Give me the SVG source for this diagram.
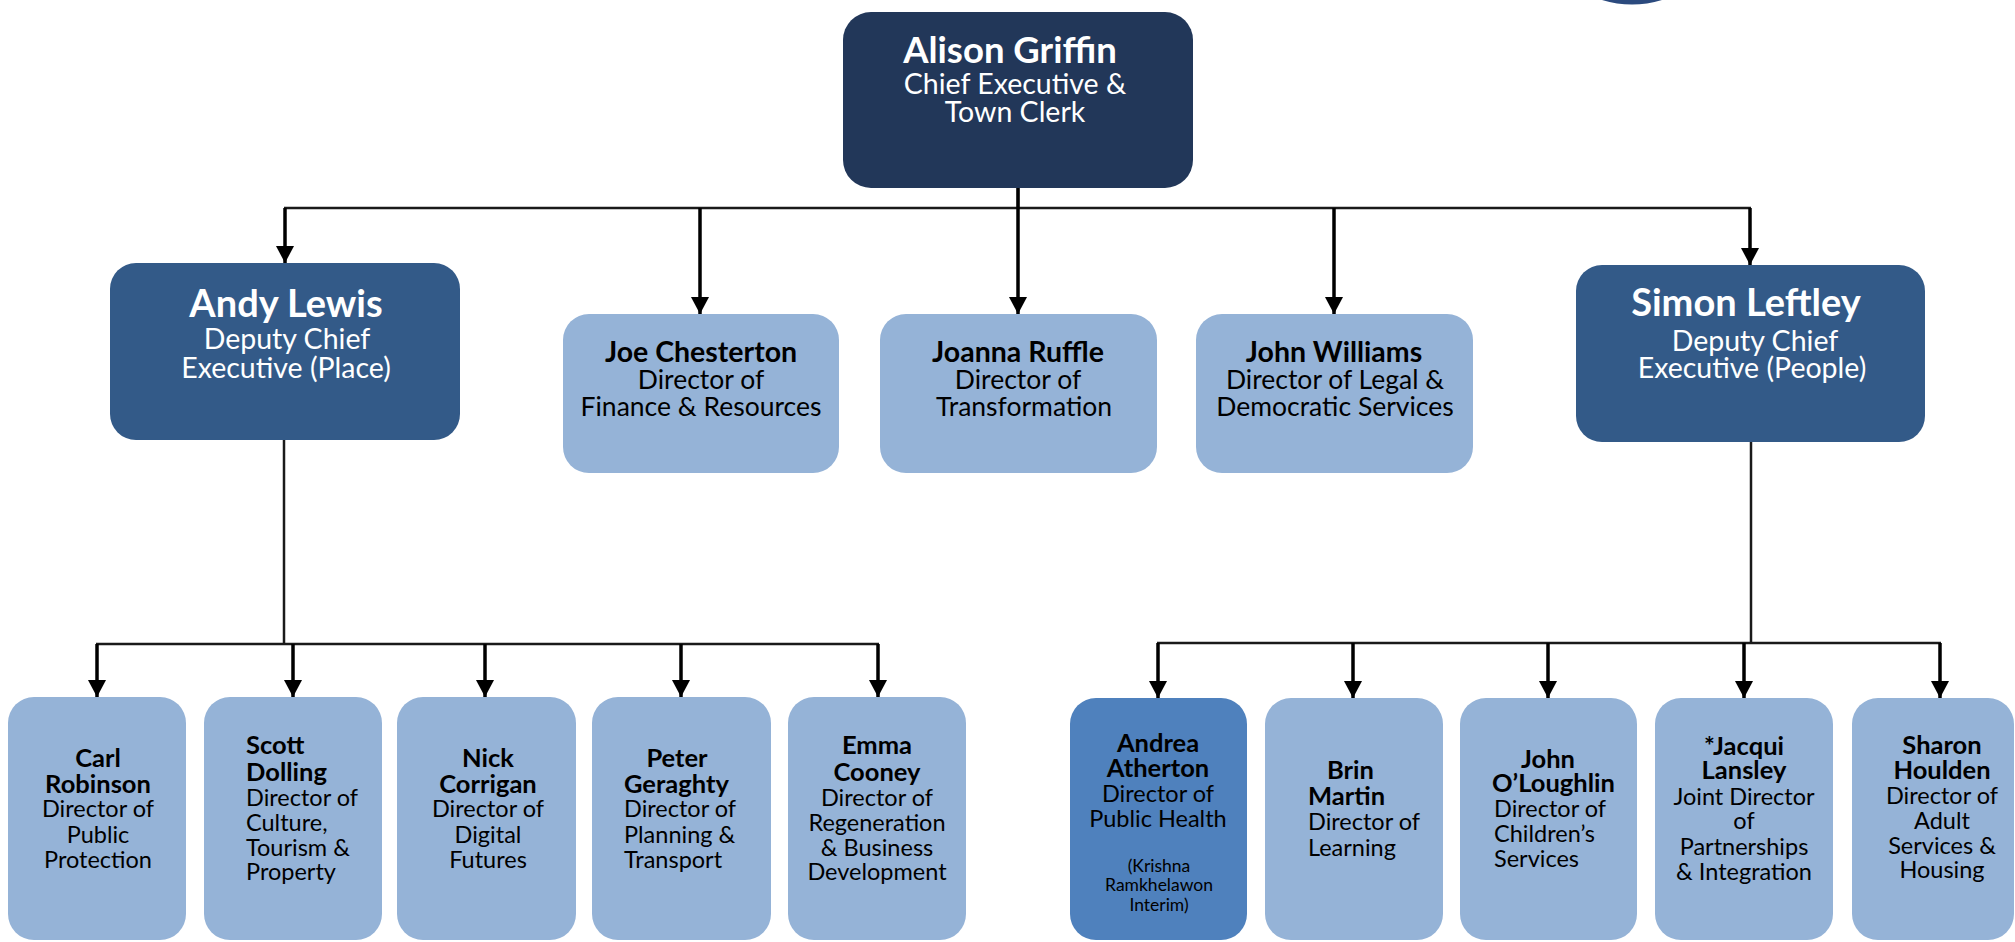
<svg xmlns="http://www.w3.org/2000/svg" width="2015" height="942" viewBox="0 0 2015 942">
<style>
text{font-family:Lato,"Open Sans","Liberation Sans",sans-serif}
.exec{fill:#223759}
.dep{fill:#335a88}
.dir{fill:#95b3d7}
.ph{fill:#4f81bd}
.w{fill:#ffffff}
.k{fill:#000000}
.c{text-anchor:middle}
.b{font-weight:bold}
.t1{font-size:36.5px}
.t0{font-size:28.5px}
.t2{font-size:28.5px}
.t3{font-size:38px}
.m1{font-size:28.5px}
.m2{font-size:26.5px}
.s1{font-size:25.5px}
.s2{font-size:23.5px}
.s3{font-size:17.5px}
.ln{stroke:#1a1a1a;stroke-width:2.5;fill:none}
.ar{stroke:#000;stroke-width:3.5;fill:none;marker-end:url(#ah)}
</style>
<defs>
<marker id="ah" markerUnits="userSpaceOnUse" markerWidth="18" markerHeight="18" viewBox="0 0 17 18" refX="17" refY="9" orient="auto">
<path d="M0,0 L17,9 L0,18 z" fill="#000"/>
</marker>
</defs>
<rect width="2015" height="942" fill="#ffffff"/>
<path d="M1602,0 Q1632,9 1662,0 Z" fill="#2b4a7e"/>
<g id="connectors">
<line class="ln" x1="1018" y1="188" x2="1018" y2="208"/>
<line class="ln" x1="284" y1="208" x2="1751" y2="208"/>
<line class="ar" x1="285" y1="208" x2="285" y2="263"/>
<line class="ar" x1="700" y1="208" x2="700" y2="314"/>
<line class="ar" x1="1018" y1="188" x2="1018" y2="314"/>
<line class="ar" x1="1334" y1="208" x2="1334" y2="314"/>
<line class="ar" x1="1750" y1="208" x2="1750" y2="265"/>
<line class="ln" x1="284" y1="440" x2="284" y2="644"/>
<line class="ln" x1="96" y1="644" x2="879" y2="644"/>
<line class="ar" x1="97" y1="644" x2="97" y2="697"/>
<line class="ar" x1="293" y1="644" x2="293" y2="697"/>
<line class="ar" x1="485" y1="644" x2="485" y2="697"/>
<line class="ar" x1="681" y1="644" x2="681" y2="697"/>
<line class="ar" x1="878" y1="644" x2="878" y2="697"/>
<line class="ln" x1="1751" y1="442" x2="1751" y2="643"/>
<line class="ln" x1="1157" y1="643" x2="1941" y2="643"/>
<line class="ar" x1="1158" y1="643" x2="1158" y2="698"/>
<line class="ar" x1="1353" y1="643" x2="1353" y2="698"/>
<line class="ar" x1="1548" y1="643" x2="1548" y2="698"/>
<line class="ar" x1="1744" y1="643" x2="1744" y2="698"/>
<line class="ar" x1="1940" y1="643" x2="1940" y2="698"/>
</g>
<g id="alison">
<rect class="exec" x="843" y="12" width="350" height="176" rx="28"/>
<text class="w c b t1" x="1010" y="63">Alison Griffin</text>
<text class="w c t0" x="1015" y="94">Chief Executive &amp;</text>
<text class="w c t0" x="1015" y="122">Town Clerk</text>
</g>
<g id="andy">
<rect class="dep" x="110" y="263" width="350" height="177" rx="26"/>
<text class="w c b t3" x="286" y="317">Andy Lewis</text>
<text class="w c t2" x="287" y="349">Deputy Chief</text>
<text class="w c t2" x="286" y="378">Executive (Place)</text>
</g>
<g id="simon">
<rect class="dep" x="1576" y="265" width="349" height="177" rx="26"/>
<text class="w c b t3" x="1746" y="316">Simon Leftley</text>
<text class="w c t2" x="1755" y="351">Deputy Chief</text>
<text class="w c t2" x="1752" y="378">Executive (People)</text>
</g>
<g id="joe">
<rect class="dir" x="563" y="314" width="276" height="159" rx="26"/>
<text class="k c b m1" x="701" y="362">Joe Chesterton</text>
<text class="k c m2" x="701" y="389">Director of</text>
<text class="k c m2" x="701" y="416">Finance &amp; Resources</text>
</g>
<g id="joanna">
<rect class="dir" x="880" y="314" width="277" height="159" rx="26"/>
<text class="k c b m1" x="1018" y="362">Joanna Ruffle</text>
<text class="k c m2" x="1018" y="389">Director of</text>
<text class="k c m2" x="1024" y="416">Transformation</text>
</g>
<g id="johnw">
<rect class="dir" x="1196" y="314" width="277" height="159" rx="26"/>
<text class="k c b m1" x="1334" y="362">John Williams</text>
<text class="k c m2" x="1335" y="389">Director of Legal &amp;</text>
<text class="k c m2" x="1335" y="416">Democratic Services</text>
</g>
<g id="carl">
<rect class="dir" x="8" y="697" width="178" height="243" rx="26"/>
<text class="k c b s1" x="98" y="767">Carl</text>
<text class="k c b s1" x="98" y="793">Robinson</text>
<text class="k c s2" x="98" y="817">Director of</text>
<text class="k c s2" x="98" y="843">Public</text>
<text class="k c s2" x="98" y="868">Protection</text>
</g>
<g id="scott">
<rect class="dir" x="204" y="697" width="178" height="243" rx="26"/>
<text class="k b s1" x="246" y="754">Scott</text>
<text class="k b s1" x="246" y="781">Dolling</text>
<text class="k s2" x="246" y="806">Director of</text>
<text class="k s2" x="246" y="831">Culture,</text>
<text class="k s2" x="246" y="856">Tourism &amp;</text>
<text class="k s2" x="246" y="880">Property</text>
</g>
<g id="nick">
<rect class="dir" x="397" y="697" width="179" height="243" rx="26"/>
<text class="k c b s1" x="488" y="767">Nick</text>
<text class="k c b s1" x="488" y="793">Corrigan</text>
<text class="k c s2" x="488" y="817">Director of</text>
<text class="k c s2" x="488" y="843">Digital</text>
<text class="k c s2" x="488" y="868">Futures</text>
</g>
<g id="peter">
<rect class="dir" x="592" y="697" width="179" height="243" rx="26"/>
<text class="k c b s1" x="677" y="767">Peter</text>
<text class="k b s1" x="624" y="793">Geraghty</text>
<text class="k s2" x="624" y="817">Director of</text>
<text class="k s2" x="624" y="843">Planning &amp;</text>
<text class="k s2" x="624" y="868">Transport</text>
</g>
<g id="emma">
<rect class="dir" x="788" y="697" width="178" height="243" rx="26"/>
<text class="k c b s1" x="877" y="754">Emma</text>
<text class="k c b s1" x="877" y="781">Cooney</text>
<text class="k c s2" x="877" y="806">Director of</text>
<text class="k c s2" x="877" y="831">Regeneration</text>
<text class="k c s2" x="877" y="856">&amp; Business</text>
<text class="k c s2" x="877" y="880">Development</text>
</g>
<g id="andrea">
<rect class="ph" x="1070" y="698" width="177" height="242" rx="26"/>
<text class="k c b s1" x="1158" y="752">Andrea</text>
<text class="k c b s1" x="1158" y="777">Atherton</text>
<text class="k c s2" x="1158" y="802">Director of</text>
<text class="k c s2" x="1158" y="827">Public Health</text>
<text class="k c s3" x="1159" y="872">(Krishna</text>
<text class="k c s3" x="1159" y="891">Ramkhelawon</text>
<text class="k c s3" x="1159" y="911">Interim)</text>
</g>
<g id="brin">
<rect class="dir" x="1265" y="698" width="178" height="242" rx="26"/>
<text class="k b s1" x="1327" y="779">Brin</text>
<text class="k b s1" x="1308" y="805">Martin</text>
<text class="k s2" x="1308" y="830">Director of</text>
<text class="k s2" x="1308" y="856">Learning</text>
</g>
<g id="johno">
<rect class="dir" x="1460" y="698" width="177" height="242" rx="26"/>
<text class="k c b s1" x="1548" y="768">John</text>
<text class="k b s1" x="1492" y="792">O’Loughlin</text>
<text class="k s2" x="1494" y="817">Director of</text>
<text class="k s2" x="1494" y="842">Children’s</text>
<text class="k s2" x="1494" y="867">Services</text>
</g>
<g id="jacqui">
<rect class="dir" x="1655" y="698" width="178" height="242" rx="26"/>
<text class="k c b s1" x="1744" y="755">*Jacqui</text>
<text class="k c b s1" x="1744" y="779">Lansley</text>
<text class="k c s2" x="1744" y="805">Joint Director</text>
<text class="k c s2" x="1744" y="829">of</text>
<text class="k c s2" x="1744" y="855">Partnerships</text>
<text class="k c s2" x="1744" y="880">&amp; Integration</text>
</g>
<g id="sharon">
<rect class="dir" x="1852" y="698" width="162" height="242" rx="26"/>
<text class="k c b s1" x="1942" y="754">Sharon</text>
<text class="k c b s1" x="1942" y="779">Houlden</text>
<text class="k c s2" x="1942" y="804">Director of</text>
<text class="k c s2" x="1942" y="829">Adult</text>
<text class="k c s2" x="1942" y="854">Services &amp;</text>
<text class="k c s2" x="1942" y="878">Housing</text>
</g>
</svg>
